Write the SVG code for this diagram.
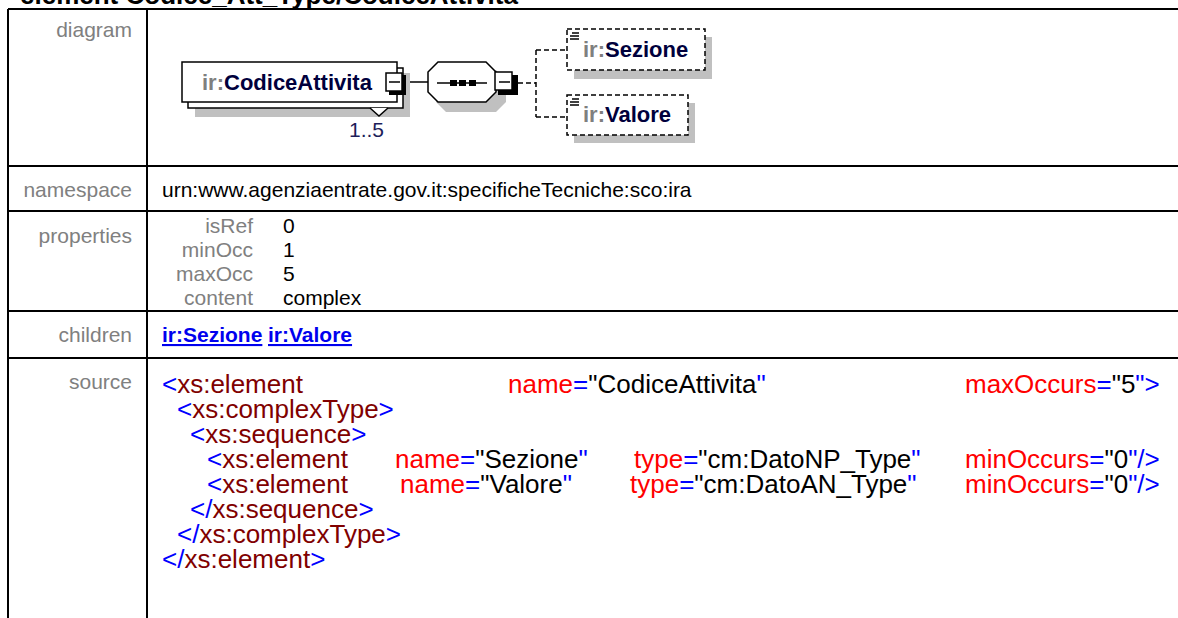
<svg xmlns="http://www.w3.org/2000/svg" width="1178" height="618" viewBox="0 0 1178 618">
<style>
.lbl{font-family:"Liberation Sans",Arial,sans-serif;font-size:21px;fill:#808080;text-anchor:end}
.val{font-family:"Liberation Sans",Arial,sans-serif;font-size:21px;fill:#000}
.lnk{font-family:"Liberation Sans",Arial,sans-serif;font-size:21px;font-weight:bold;fill:#0000ee;text-decoration:underline}
.src{font-family:"Liberation Sans",Arial,sans-serif;font-size:26px;fill:#000}
.b{fill:#0000ff}.t{fill:#800000}.a{fill:#ff0000}
.grid{stroke:#000;stroke-width:2;fill:none}
.node{font-family:"Liberation Sans",Arial,sans-serif;font-size:22px;font-weight:bold;fill:#00003c}
.ns{fill:#7f7f7f}
.shadow{fill:#c0c0c0}
.box{fill:#fff;stroke:#000;stroke-width:1.5}
.dbox{fill:#fff;stroke:#000;stroke-width:1.5;stroke-dasharray:5 3}
.conn{stroke:#000;stroke-width:1.5;fill:none}
.dconn{stroke:#000;stroke-width:1.5;fill:none;stroke-dasharray:5 3}
.title{font-family:"Liberation Sans",Arial,sans-serif;font-size:26px;font-weight:bold;fill:#000}
</style>
<rect width="1178" height="618" fill="#fff"/>
<text class="title" x="20" y="4">element Codice_Att_Type/CodiceAttivita</text>
<g id="table">
<path class="grid" d="M8 9H1178M8 166H1178M8 211H1178M8 311H1178M8 358H1178M8 9V618M147 9V618"/>
<text class="lbl" x="132" y="37">diagram</text>
<text class="lbl" x="132" y="197">namespace</text>
<text class="lbl" x="132" y="243">properties</text>
<text class="lbl" x="132" y="342">children</text>
<text class="lbl" x="132" y="389">source</text>
<text class="val" x="162" y="197">urn:www.agenziaentrate.gov.it:specificheTecniche:sco:ira</text>
<text class="lbl" x="253" y="233">isRef</text>
<text class="lbl" x="253" y="257">minOcc</text>
<text class="lbl" x="253" y="281">maxOcc</text>
<text class="lbl" x="253" y="305">content</text>
<text class="val" x="283" y="233">0</text>
<text class="val" x="283" y="257">1</text>
<text class="val" x="283" y="281">5</text>
<text class="val" x="283" y="305">complex</text>
<text class="lnk" x="162" y="342">ir:Sezione</text>
<text class="lnk" x="268" y="342">ir:Valore</text>
</g>
<g id="source">
<text class="src" x="162" y="393"><tspan class="b">&lt;</tspan><tspan class="t">xs:element</tspan></text>
<text class="src" x="508" y="393"><tspan class="a">name</tspan><tspan class="b">=</tspan>"CodiceAttivita<tspan class="b">"</tspan></text>
<text class="src" x="965" y="393"><tspan class="a">maxOccurs</tspan><tspan class="b">=</tspan>"5<tspan class="b">"&gt;</tspan></text>
<text class="src" x="177" y="418"><tspan class="b">&lt;</tspan><tspan class="t">xs:complexType</tspan><tspan class="b">&gt;</tspan></text>
<text class="src" x="190" y="443"><tspan class="b">&lt;</tspan><tspan class="t">xs:sequence</tspan><tspan class="b">&gt;</tspan></text>
<text class="src" x="207" y="468"><tspan class="b">&lt;</tspan><tspan class="t">xs:element</tspan></text>
<text class="src" x="395" y="468"><tspan class="a">name</tspan><tspan class="b">=</tspan>"Sezione<tspan class="b">"</tspan></text>
<text class="src" x="634" y="468"><tspan class="a">type</tspan><tspan class="b">=</tspan>"cm:DatoNP_Type<tspan class="b">"</tspan></text>
<text class="src" x="965" y="468"><tspan class="a">minOccurs</tspan><tspan class="b">=</tspan>"0<tspan class="b">"/&gt;</tspan></text>
<text class="src" x="207" y="493"><tspan class="b">&lt;</tspan><tspan class="t">xs:element</tspan></text>
<text class="src" x="400" y="493"><tspan class="a">name</tspan><tspan class="b">=</tspan>"Valore<tspan class="b">"</tspan></text>
<text class="src" x="630" y="493"><tspan class="a">type</tspan><tspan class="b">=</tspan>"cm:DatoAN_Type<tspan class="b">"</tspan></text>
<text class="src" x="965" y="493"><tspan class="a">minOccurs</tspan><tspan class="b">=</tspan>"0<tspan class="b">"/&gt;</tspan></text>
<text class="src" x="190" y="518"><tspan class="b">&lt;/</tspan><tspan class="t">xs:sequence</tspan><tspan class="b">&gt;</tspan></text>
<text class="src" x="177" y="543"><tspan class="b">&lt;/</tspan><tspan class="t">xs:complexType</tspan><tspan class="b">&gt;</tspan></text>
<text class="src" x="162" y="568"><tspan class="b">&lt;/</tspan><tspan class="t">xs:element</tspan><tspan class="b">&gt;</tspan></text>
</g>
<g id="connectors">
<path class="conn" d="M405 82H428"/>
<path class="dconn" d="M518 83H536M536 50V117M536 50H567M536 117H567"/>
</g>
<g id="node-CodiceAttivita">
<rect class="shadow" x="195" y="73" width="215" height="44"/>
<rect class="box" x="188" y="68" width="215" height="40"/>
<rect class="box" x="182" y="62" width="215" height="40"/>
<polyline points="370,108 379,116 388,108" fill="#fff" stroke="#000" stroke-width="1.5"/>
<text class="node" x="202" y="90"><tspan class="ns">ir:</tspan>CodiceAttivita</text>
<rect x="389" y="75" width="17" height="20" fill="#000"/>
<rect class="box" x="386" y="73" width="16" height="18"/>
<path class="conn" d="M389 82H400"/>
<text x="349" y="137" font-family="Liberation Sans, Arial, sans-serif" font-size="21" fill="#1e1e5a">1..5</text>
</g>
<g id="node-sequence">
<polygon class="shadow" points="446,70 496,70 506,80 506,102 496,112 446,112 436,102 436,80"/>
<polygon class="box" points="438,62 486,62 496,72 496,92 486,102 438,102 428,92 428,72"/>
<path class="conn" d="M437 83H487"/>
<rect x="450" y="80" width="7" height="6" fill="#000"/>
<rect x="459" y="80" width="7" height="6" fill="#000"/>
<rect x="469" y="80" width="7" height="6" fill="#000"/>
<rect x="498" y="75" width="20" height="20" fill="#000"/>
<rect class="box" x="495" y="72" width="17" height="18"/>
<path class="conn" d="M499 82H510"/>
</g>
<g id="node-Sezione">
<rect class="shadow" x="574" y="37" width="138" height="42"/>
<rect class="dbox" x="567" y="29" width="138" height="41"/>
<path class="conn" d="M572 33H579M570 36H579M570 39H579" stroke-width="1"/>
<text class="node" x="583" y="57"><tspan class="ns">ir:</tspan>Sezione</text>
</g>
<g id="node-Valore">
<rect class="shadow" x="574" y="103" width="121" height="40"/>
<rect class="dbox" x="567" y="95" width="121" height="40"/>
<path class="conn" d="M572 99H579M570 102H579M570 105H579" stroke-width="1"/>
<text class="node" x="583" y="122"><tspan class="ns">ir:</tspan>Valore</text>
</g>
</svg>
